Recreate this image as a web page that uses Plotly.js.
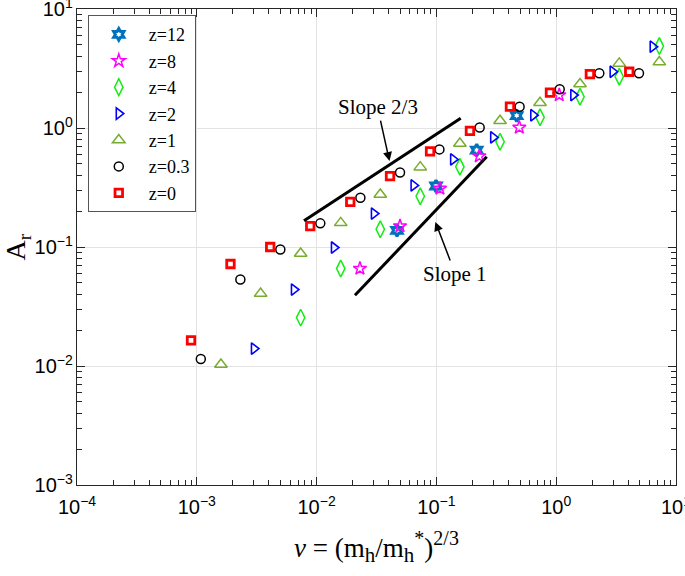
<!DOCTYPE html>
<html><head><meta charset="utf-8">
<script src="https://cdn.plot.ly/plotly-3.0.1.min.js"></script>
<style>body{margin:0;padding:0;background:#fff}</style>
</head><body>
<div id="chart" style="width:685px;height:576px"></div>
<script>
// z=12
const x12 = [0.0469, 0.0993, 0.217, 0.468];
const y12 = [0.138, 0.325, 0.652, 1.27];
// z=8
const x8 = [0.0230, 0.0497, 0.107, 0.228, 0.492, 1.06];
const y8 = [0.0659, 0.150, 0.310, 0.580, 1.01, 1.89];
// z=4
const x4 = [0.00736, 0.0159, 0.0340, 0.0733, 0.157, 0.340, 0.733, 1.58, 3.36, 7.26];
const y4 = [0.0255, 0.0659, 0.141, 0.267, 0.472, 0.766, 1.23, 1.83, 2.70, 4.88];
// z=2
const x2 = [0.0030, 0.00647, 0.01396, 0.0301, 0.0645, 0.138, 0.298, 0.644, 1.39, 2.96, 6.39];
const y2 = [0.0140, 0.0439, 0.0990, 0.191, 0.329, 0.544, 0.834, 1.28, 1.89, 2.97, 4.82];
// z=1
const x1 = [0.00159, 0.00341, 0.00736, 0.0159, 0.0340, 0.0733, 0.157, 0.340, 0.733, 1.58, 3.36, 7.26];
const y1 = [0.01028, 0.0406, 0.0881, 0.1595, 0.2764, 0.469, 0.741, 1.15, 1.63, 2.34, 3.49, 3.58];
// z=0.3
const x03 = [0.00108, 0.00231, 0.00498, 0.01074, 0.0232, 0.0497, 0.106, 0.2297, 0.495, 1.07, 2.29, 4.91];
const y03 = [0.01145, 0.0533, 0.0953, 0.158, 0.259, 0.423, 0.661, 1.01, 1.51, 2.12, 2.88, 2.88];
// z=0
const x0 = [0.000895, 0.00191, 0.00410, 0.00885, 0.0191, 0.041, 0.0885, 0.1905, 0.411, 0.887, 1.91, 4.07];
const y0 = [0.0164, 0.072, 0.100, 0.150, 0.239, 0.394, 0.636, 0.946, 1.51, 1.98, 2.84, 2.97];
// guide lines
const slope23X = [0.00785, 0.1596];
const slope23Y = [0.166, 1.205];
const slope1X = [0.0209, 0.263];
const slope1Y = [0.0393, 0.573];
// tick label aliases for the decades plotly writes as plain numbers
const tickAlias = {'1': '10<sup>0</sup>', '10': '10<sup>1</sup>'};

const names = ['z=12','z=8','z=4','z=2','z=1','z=0.3','z=0'];
const xs = [x12, x8, x4, x2, x1, x03, x0];
const ys = [y12, y8, y4, y2, y1, y03, y0];
const symbols = ['hexagram-open','star-open','diamond-tall-open','triangle-right-open','triangle-up-open','circle-open','square-open'];
const colors = ['#0072BD','#FF00FF','#11EE11','#0000FF','#77AC30','#000000','#FF0000'];
const sizes = [9, 10, 12, 10, 11, 9, 7.5];
const widths = [3, 1.5, 1.5, 1.6, 1.5, 1.5, 2.8];

const traces = names.map((n,i)=>({
  type:'scatter', mode:'markers', name:n, x:xs[i], y:ys[i],
  marker:{symbol:symbols[i], color:colors[i], size:sizes[i], line:{color:colors[i], width:widths[i]}}
}));
traces.push({type:'scatter', mode:'lines', x:slope23X, y:slope23Y, showlegend:false, line:{color:'black', width:3}, hoverinfo:'skip'});
traces.push({type:'scatter', mode:'lines', x:slope1X, y:slope1Y, showlegend:false, line:{color:'black', width:3}, hoverinfo:'skip'});

const tc = '#262626';
const serif = 'Liberation Serif, Times New Roman, serif';
const axisCommon = {
  type:'log', showline:true, linecolor:tc, linewidth:1, mirror:'allticks',
  ticks:'inside', ticklen:8, tickcolor:tc, showgrid:true, gridcolor:'#e3e3e3',
  dtick:1, exponentformat:'power', labelalias:tickAlias, zeroline:false, ticklabeloverflow:'allow',
  tickfont:{family:'Liberation Sans, Arial, sans-serif', size:16, color:'#000'},
  minor:{dtick:'D1', ticks:'inside', ticklen:5, tickcolor:tc, tickwidth:1, showgrid:false}
};

const layout = {
  width:685, height:576, margin:{l:77, r:9, t:9, b:91},
  paper_bgcolor:'#fff', plot_bgcolor:'#fff',
  xaxis: Object.assign({}, axisCommon, {range:[-4,1], ticklabelstandoff:5,
    title:{text:'<i>ν</i> = (m<sub><span style="font-size:21px">h</span></sub>/m<sub><span style="font-size:21px">h</span></sub><sup><span style="font-size:20px">*</span></sup>)<sup><span style="font-size:20px">2/3</span></sup>', standoff:20,
      font:{family:serif, size:27, color:'#000'}}}),
  yaxis: Object.assign({}, axisCommon, {range:[-3,1],
    title:{text:'A<sub>r</sub>', standoff:6,
      font:{family:serif, size:28, color:'#000'}}}),
  legend:{x:0.018, y:0.987, xanchor:'left', yanchor:'top', bgcolor:'#fff',
    bordercolor:'#555', borderwidth:1,
    font:{family:serif, size:18, color:'#000'},
    itemwidth:50},
  showlegend:true,
  annotations:[
    {x:Math.log10(0.0406), y:Math.log10(0.527), xref:'x', yref:'y', text:'Slope 2/3',
     showarrow:true, arrowhead:2, arrowsize:1.2, arrowwidth:1.5, arrowcolor:'#000',
     ax:-12, ay:-54, font:{family:serif, size:21, color:'#000'}},
    {x:Math.log10(0.0980), y:Math.log10(0.1625), xref:'x', yref:'y', text:'Slope 1',
     showarrow:true, arrowhead:2, arrowsize:1.2, arrowwidth:1.5, arrowcolor:'#000',
     ax:20, ay:52, font:{family:serif, size:21, color:'#000'}}
  ]
};

Plotly.newPlot('chart', traces, layout, {displayModeBar:false, staticPlot:true});
</script>
</body></html>
